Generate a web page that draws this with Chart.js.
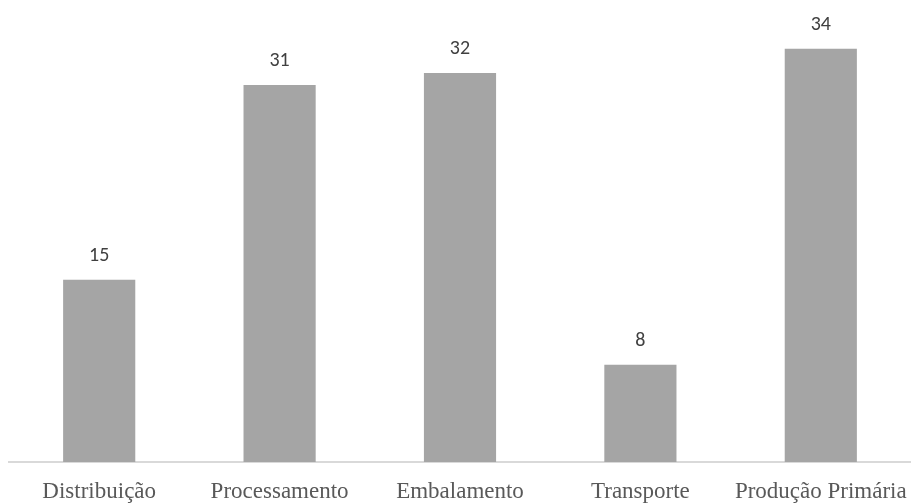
<!DOCTYPE html>
<html>
<head>
<meta charset="utf-8">
<script src="https://cdn.jsdelivr.net/npm/chart.js@4/dist/chart.umd.min.js"></script>
<style>
  html, body { margin: 0; padding: 0; background: #fff; }
  #wrap { width: 911px; height: 504px; }
</style>
</head>
<body>
<div id="wrap"><canvas id="myChart"></canvas></div>
<script>
  const categories = ['Distribuição', 'Processamento', 'Embalamento', 'Transporte', 'Produção Primária'];
  const values = [15, 31, 32, 8, 34];

  // prints each value above its bar
  const valueLabels = {
    id: 'valueLabels',
    afterDatasetsDraw(chart) {
      const ctx = chart.ctx;
      const meta = chart.getDatasetMeta(0);
      ctx.save();
      ctx.font = '20px Carlito, "Open Sans", sans-serif';
      ctx.fillStyle = '#404040';
      ctx.textAlign = 'center';
      ctx.textBaseline = 'alphabetic';
      meta.data.forEach(function(bar, i){
        ctx.fillText(values[i], bar.x, bar.y - 19);
      });
      ctx.restore();
    }
  };

  const ctx = document.getElementById('myChart').getContext('2d');
  // eslint-disable-next-line no-undef, no-unused-vars
  const myChart = new Chart(ctx, {
    type: 'bar',
    data: {
      labels: categories,
      datasets: [{
        data: values,
        backgroundColor: '#a5a5a5',
        barPercentage: 0.5,
        categoryPercentage: 0.8,
      }]
    },
    options: {
      responsive: true,
      maintainAspectRatio: false,
      animation: false,
      layout: {
        padding: { left: 9, right: 0, top: 0, bottom: 0 },
      },
      plugins: {
        legend: { display: false },
        tooltip: { enabled: false },
      },
      scales: {
        x: {
          grid: { display: false, drawTicks: false },
          border: { display: true, color: '#d9d9d9', width: 2 },
          ticks: {
            padding: 16,
            color: '#595959',
            font: { family: '"Liberation Serif", serif', size: 23 },
            maxRotation: 0,
            autoSkip: false,
          },
          afterFit(scale) {
            // labels may hang past the edges; keep the full width for bars
            scale.height = 42;
            scale.paddingLeft = 0;
            scale.paddingRight = 0;
          },
        },
        y: {
          display: false,
          min: 0,
          max: 38,
        }
      }
    },
    plugins: [valueLabels],
  });
</script>
</body>
</html>
